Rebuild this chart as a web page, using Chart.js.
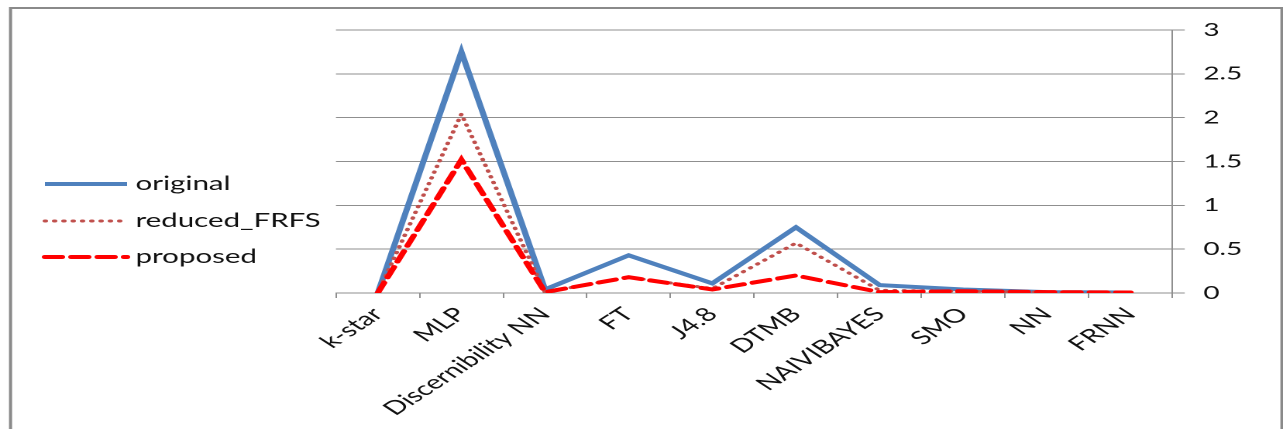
<!DOCTYPE html>
<html>
<head>
<meta charset="utf-8">
<script src="https://cdn.jsdelivr.net/npm/chart.js@4/dist/chart.umd.min.js"></script>
<style>
  html, body { margin: 0; padding: 0; background: #ffffff; overflow: hidden; }
  #wrap { width: 828px; height: 429px; transform-origin: 0 0; transform: scaleX(1.5495); }
</style>
</head>
<body>
<div id="wrap"><canvas id="c" width="828" height="429"></canvas></div>
<script>
// Classifier names along the category axis
const categories = ['k-star', 'MLP', 'Discernibility NN', 'FT', 'J4.8', 'DTMB', 'NAIVIBAYES', 'SMO', 'NN', 'FRNN'];

// Series values
const original    = [0, 2.75, 0.04, 0.43, 0.11, 0.75, 0.09, 0.04, 0.01, 0.005];
const reducedFRFS = [0, 2.04, 0.01, 0.18, 0.05, 0.57, 0.03, 0.02, 0.01, 0.005];
const proposed    = [0, 1.52, 0.01, 0.18, 0.04, 0.20, 0.01, 0.02, 0.01, 0.005];

// Value axis ticks
const yTicks = [0, 0.5, 1, 1.5, 2, 2.5, 3];

const FONT = 'Lato, "Liberation Sans", sans-serif';
const GRID = '#8f8f8f';

// Frame around the whole chart and the legend block on the left
const framePlugin = {
  id: 'frame',
  afterDraw(chart) {
    const ctx = chart.ctx;
    ctx.save();
    ctx.strokeStyle = '#8a8a8a';
    ctx.lineWidth = 2;
    ctx.strokeRect(6.8, 8, 820.5, 440);

    const rows = [184, 221, 257];
    chart.data.datasets.forEach((ds, i) => {
      const y = rows[i];
      ctx.save();
      ctx.strokeStyle = ds.borderColor;
      ctx.lineWidth = ds.borderWidth;
      ctx.lineCap = ds.borderCapStyle || 'butt';
      ctx.setLineDash(ds.borderDash || []);
      ctx.beginPath();
      ctx.moveTo(29, y);
      ctx.lineTo(82, y);
      ctx.stroke();
      ctx.restore();
      ctx.fillStyle = '#111111';
      ctx.font = '19px ' + FONT;
      ctx.textBaseline = 'middle';
      ctx.textAlign = 'left';
      ctx.fillText(ds.label, 87.5, y);
    });
    ctx.restore();
  }
};

new Chart(document.getElementById('c'), {
  type: 'line',
  data: {
    labels: categories,
    datasets: [
      {
        label: 'original',
        data: original,
        borderColor: '#4f81bd',
        borderWidth: 4,
        borderCapStyle: 'butt',
        borderJoinStyle: 'miter',
        pointRadius: 0,
        tension: 0,
        order: 2
      },
      {
        label: 'reduced_FRFS',
        data: reducedFRFS,
        borderColor: '#c0504d',
        borderWidth: 3,
        borderDash: [0.5, 5.5],
        borderCapStyle: 'round',
        pointRadius: 0,
        tension: 0,
        order: 1
      },
      {
        label: 'proposed',
        data: proposed,
        borderColor: '#ff0000',
        borderWidth: 4,
        borderDash: [11, 6],
        borderCapStyle: 'round',
        pointRadius: 0,
        tension: 0,
        order: 0
      }
    ]
  },
  options: {
    responsive: false,
    animation: false,
    devicePixelRatio: 2,
    layout: { padding: { left: 216.8, right: 21.4, top: 30, bottom: 0 } },
    plugins: { legend: { display: false }, tooltip: { enabled: false } },
    scales: {
      x: {
        type: 'category',
        offset: true,
        grid: { display: true, drawOnChartArea: false, drawTicks: true, tickLength: 5, color: GRID, offset: true },
        border: { display: true, color: GRID, width: 1 },
        ticks: {
          minRotation: 45, maxRotation: 45, autoSkip: false, padding: 5,
          color: '#111111', font: { family: FONT, size: 19 }
        },
        afterFit(s) { s.height = 136; }
      },
      y: {
        position: 'right',
        min: 0, max: 3,
        afterBuildTicks(s) { s.ticks = yTicks.map(v => ({ value: v })); },
        grid: { color: GRID, lineWidth: 1, drawTicks: true, tickLength: 8 },
        border: { display: true, color: GRID, width: 1 },
        ticks: {
          padding: 12, crossAlign: 'near', color: '#111111',
          font: { family: FONT, size: 18 },
          callback: v => String(v)
        },
        afterFit(s) { s.width = 50; }
      }
    }
  },
  plugins: [framePlugin]
});
</script>
</body>
</html>
